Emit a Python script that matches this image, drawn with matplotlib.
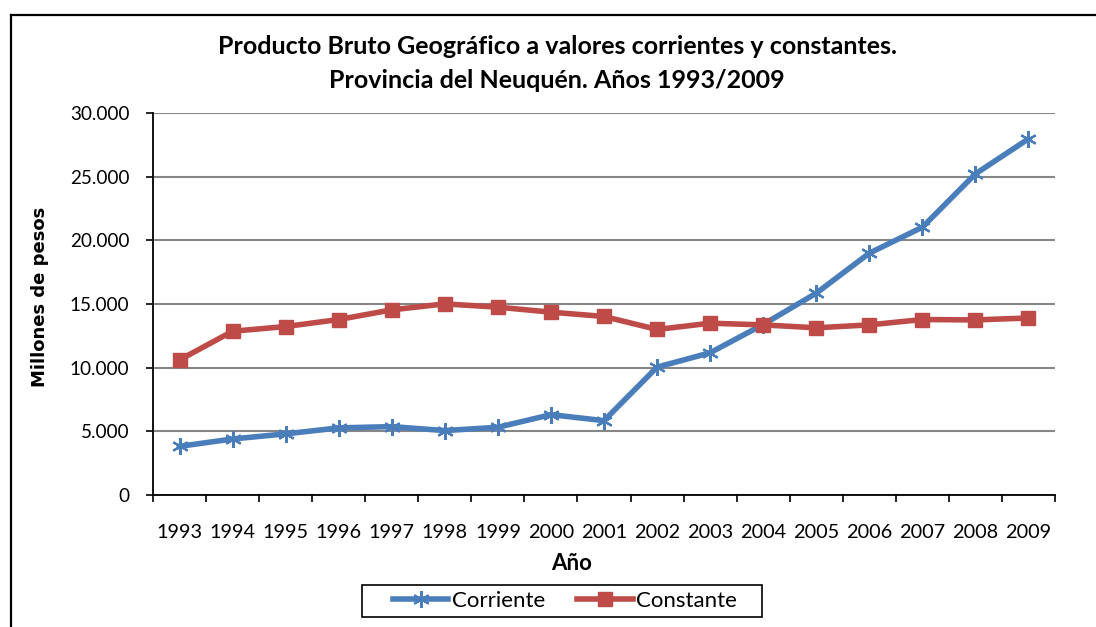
import matplotlib
matplotlib.use("Agg")
import matplotlib.pyplot as plt
from matplotlib.lines import Line2D
from matplotlib.patches import Rectangle
from matplotlib.ticker import FuncFormatter

# data (millones de pesos)
years = ["1993", "1994", "1995", "1996", "1997", "1998", "1999", "2000", "2001",
         "2002", "2003", "2004", "2005", "2006", "2007", "2008", "2009"]
corriente = [3820, 4400, 4800, 5270, 5370, 5060, 5320, 6310, 5840,
             10040, 11170, 13390, 15850, 18990, 21030, 25220, 27970]
constante = [10610, 12860, 13230, 13780, 14540, 15010, 14750, 14360, 14020,
             13000, 13490, 13360, 13130, 13360, 13780, 13750, 13900]
y_ticks = [0, 5000, 10000, 15000, 20000, 25000, 30000]

plt.rcParams["font.family"] = ["Lato", "DejaVu Sans"]

W, H = 1096, 627
fig = plt.figure(figsize=(W / 100, H / 100), dpi=100)
ax = fig.add_axes([153 / W, 1 - 495 / H, (1055 - 153) / W, (495 - 113) / H])

blue = "#4A7EBB"
red = "#BE4B48"
x = list(range(len(years)))

ax.plot(x, corriente, color=blue, lw=4, marker=(6, 2, 0), ms=12,
        mec=blue, mew=1.6, label="Corriente", zorder=3)
ax.plot(x, constante, color=red, lw=4, marker="s", ms=10,
        mfc=red, mec=red, label="Constante", zorder=3)

ax.set_xlim(-0.5, len(years) - 0.5)
ax.set_ylim(0, 30000)
ax.set_yticks(y_ticks)
ax.yaxis.set_major_formatter(FuncFormatter(lambda v, p: f"{int(v):,}".replace(",", ".")))
ax.grid(axis="y", color="#868686", lw=1.5, zorder=1)
ax.set_axisbelow(True)

# category boundaries get tick marks, labels sit in the middle
ax.set_xticks([i - 0.5 for i in range(len(years) + 1)])
ax.set_xticklabels([])
ax.set_xticks(x, minor=True)
ax.set_xticklabels(years, minor=True, fontsize=14.3)
ax.tick_params(axis="x", which="major", length=5, width=1.2, direction="out")
ax.tick_params(axis="x", which="minor", length=0, pad=21)
ax.tick_params(axis="y", length=5, width=1.2, direction="out", pad=12, labelsize=13.6)

for s in ["top", "right"]:
    ax.spines[s].set_visible(False)
for s in ["left", "bottom"]:
    ax.spines[s].set_linewidth(1.3)

fig.text(557 / W, 1 - 47 / H, "Producto Bruto Geográfico a valores corrientes y constantes.",
         ha="center", va="center", fontsize=18, fontweight="bold")
fig.text(557 / W, 1 - 80 / H, "Provincia del Neuquén. Años 1993/2009",
         ha="center", va="center", fontsize=18, fontweight="bold")
fig.text(40 / W, 1 - 297 / H, "Millones de pesos", rotation=90,
         ha="center", va="center", fontsize=13, fontweight="bold",
         family="DejaVu Sans")
fig.text(572 / W, 1 - 564 / H, "Año", ha="center", va="center",
         fontsize=16, fontweight="bold")

leg = fig.legend(loc="center", bbox_to_anchor=(565 / W, 1 - 601 / H), ncol=2,
                 frameon=False, fontsize=16, handlelength=2.5,
                 handletextpad=0.15, columnspacing=1.45, borderpad=0.2)
# legend box drawn separately: wider side padding than matplotlib allows
fig.add_artist(Rectangle((362 / W, 1 - 617 / H), 400 / W, 32 / H, transform=fig.transFigure,
                         fill=False, edgecolor="black", lw=1.2))

# chart border (right and bottom edges fall outside the picture)
fig.add_artist(Line2D([11 / W, 11 / W], [0, 1 - 15 / H], color="black", lw=1.6))
fig.add_artist(Line2D([11 / W, 1], [1 - 15 / H, 1 - 15 / H], color="black", lw=1.6))

fig.savefig("out.png", dpi=100)
